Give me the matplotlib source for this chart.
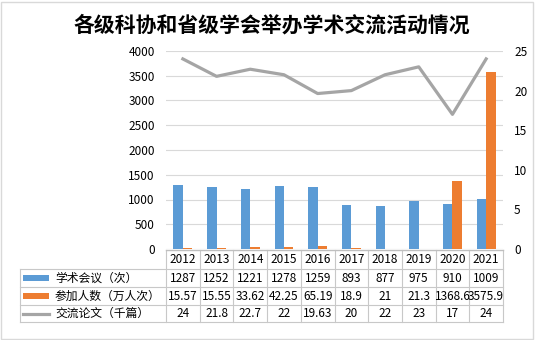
import matplotlib
matplotlib.use("Agg")
import matplotlib.pyplot as plt
from matplotlib.transforms import blended_transform_factory
from matplotlib.lines import Line2D
from matplotlib.patches import Rectangle

plt.rcParams['font.family'] = ['Noto Sans CJK SC', 'DejaVu Sans']

years = ['2012', '2013', '2014', '2015', '2016', '2017', '2018', '2019', '2020', '2021']
meetings = [1287, 1252, 1221, 1278, 1259, 893, 877, 975, 910, 1009]
# 2018 and 2019 participant bars are not drawn in the reference (values shown only in the table)
participants_bars = [15.57, 15.55, 33.62, 42.25, 65.19, 18.9, None, None, 1368.6, 3575.9]
papers = [24, 21.8, 22.7, 22, 19.63, 20, 22, 23, 17, 24]
meetings_lbl = ['1287', '1252', '1221', '1278', '1259', '893', '877', '975', '910', '1009']
participants_lbl = ['15.57', '15.55', '33.62', '42.25', '65.19', '18.9', '21', '21.3', '1368.6', '3575.9']
papers_lbl = ['24', '21.8', '22.7', '22', '19.63', '20', '22', '23', '17', '24']
series_names = ['学术会议（次）', '参加人数（万人次）', '交流论文（千篇）']
title = '各级科协和省级学会举办学术交流活动情况'

c_blue = '#5b9bd5'
c_orange = '#ed7d31'
c_gray = '#a5a5a5'
grid_c = '#d9d9d9'

W, H = 535, 340
fig = plt.figure(figsize=(W/100, H/100), dpi=100)
L, R, T, B = 166, 503, 51, 249
ax = fig.add_axes([L/W, 1-B/H, (R-L)/W, (B-T)/H])
ax2 = ax.twinx()

x = list(range(len(years)))
bw = 0.28
ax.bar([i - bw/2 for i in x], meetings, width=bw, color=c_blue, zorder=3)
ox = [i + bw/2 for i, v in zip(x, participants_bars) if v is not None]
ov = [v for v in participants_bars if v is not None]
ax.bar(ox, ov, width=bw, color=c_orange, zorder=3)
ax2.plot(x, papers, color=c_gray, lw=2.3, zorder=4)

ax.set_xlim(-0.5, len(years)-0.5)
ax.set_ylim(0, 4000)
ax.set_yticks(range(0, 4001, 500))
ax2.set_ylim(0, 25)
ax2.set_yticks(range(0, 26, 5))
ax.yaxis.grid(True, color=grid_c, lw=0.8, zorder=0)
ax.set_axisbelow(True)
for a in (ax, ax2):
    for s in a.spines.values():
        s.set_visible(False)
    a.tick_params(axis='both', length=0, labelsize=8.5, colors='#000000')
ax.set_xticks([])
ax.tick_params(axis='y', pad=8)
ax2.tick_params(axis='y', pad=8)

# title
fig.text(272/W, 1-25/H, title, ha='center', va='center', fontsize=15, fontweight='bold')

# data table
tr = blended_transform_factory(ax.transData, fig.transFigure)
rows_px = [250, 269, 287, 305, 322]
rows = [1 - p/H for p in rows_px]
lc = '#c8c8c8'
for k in range(len(years)+1):
    xv = -0.5 + k
    ax.add_artist(Line2D([xv, xv], [rows[0], rows[-1]], transform=tr, color=lc, lw=0.8, clip_on=False))
xl = 20/W
for j, yv in enumerate(rows):
    if j == 0:
        ax.add_artist(Line2D([-0.5, len(years)-0.5], [yv, yv], transform=tr, color='#bfbfbf', lw=1.0, clip_on=False))
    else:
        fig.add_artist(Line2D([xl, R/W], [yv, yv], transform=fig.transFigure, color=lc, lw=0.8))
fig.add_artist(Line2D([xl, xl], [rows[1], rows[-1]], transform=fig.transFigure, color=lc, lw=0.8))

fs = 8.5
for i, yr in enumerate(years):
    ymid = (rows[0] + rows[1]) / 2
    ax.text(i, ymid, yr, transform=tr, ha='center', va='center', fontsize=fs, clip_on=False)
for r, lbls in enumerate([meetings_lbl, participants_lbl, papers_lbl]):
    ymid = (rows[r+1] + rows[r+2]) / 2
    for i, t in enumerate(lbls):
        ax.text(i, ymid, t, transform=tr, ha='center', va='center', fontsize=fs, clip_on=False)
    if r < 2:
        col = c_blue if r == 0 else c_orange
        fig.add_artist(Rectangle((23/W, ymid - 3/H), 26/W, 6/H, transform=fig.transFigure,
                                 facecolor=col, edgecolor='none'))
    else:
        fig.add_artist(Line2D([23/W, 49/W], [ymid, ymid], transform=fig.transFigure, color=c_gray, lw=2.3))
    fig.text(55/W, ymid, series_names[r], ha='left', va='center', fontsize=fs)

# outer border
fig.add_artist(Rectangle((1/W, 1/H), (W-3)/W, (H-3)/H, transform=fig.transFigure,
                         facecolor='none', edgecolor='#d9d9d9', lw=1))

fig.savefig('out.png', dpi=100)
